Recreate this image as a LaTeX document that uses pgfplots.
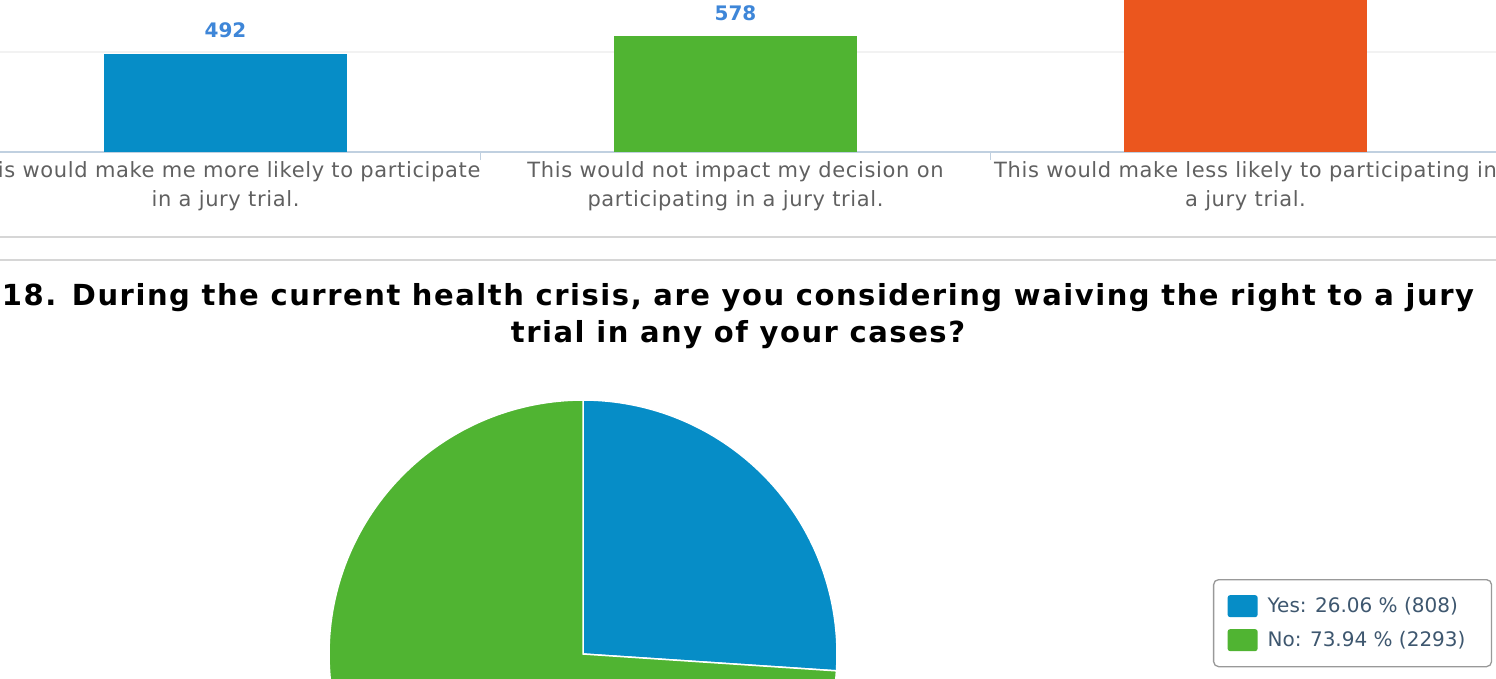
\documentclass[border=0pt]{standalone}
\usepackage{pgfplots}
\pgfplotsset{compat=1.18}
\usepackage{fontspec}
\setmainfont{DejaVu Sans}
\newfontfamily\titlefont[LetterSpace=5.3]{DejaVu Sans}
\newfontfamily\tickfont[LetterSpace=3]{DejaVu Sans}
\definecolor{cblue}{HTML}{068DC7}
\definecolor{cgreen}{HTML}{50B432}
\definecolor{corange}{HTML}{EB561E}
\definecolor{axiscol}{HTML}{C0D0E0}
\definecolor{gridcol}{HTML}{F2F2F2}
\definecolor{tickgray}{HTML}{606060}
\definecolor{labelblue}{HTML}{3E86D8}
\definecolor{sepcol}{HTML}{D6D6D6}
\definecolor{legtext}{HTML}{3E576F}
\definecolor{legborder}{HTML}{999999}
\pgfmathsetmacro{\angYes}{360*(808/(808+2293))}
\begin{document}
\begin{tikzpicture}
\path[use as bounding box] (0pt,0pt) rectangle (1496pt,-679pt);
\clip (0pt,0pt) rectangle (1496pt,-679pt);
% ---------- bar chart (top, cropped) ----------
\begin{axis}[
  at={(-29.5pt,-152pt)}, anchor=south west,
  scale only axis, width=1530pt, height=152pt,
  xmin=-0.5, xmax=2.5, ymin=0, ymax=760,
  ybar, bar width=243pt,
  /pgf/number format/assume math mode=true,
  axis x line*=bottom, axis y line*=left,
  y axis line style={draw=none},
  x axis line style={color=axiscol, line width=1.3pt, -},
  xtick={0.5,1.5}, xticklabels={},
  xtick align=outside,
  major tick length=8pt,
  xtick style={draw=axiscol, line width=1pt},
  extra x ticks={0,1,2},
  extra x tick labels={{This would make me more likely to participate\\in a jury trial.},{This would not impact my decision on\\participating in a jury trial.},{This would make less likely to participating in\\a jury trial.}},
  extra x tick style={major tick length=0pt, xtick style={draw=none}},
  x tick label style={align=center, font=\tickfont\fontsize{21}{29}\selectfont, text=tickgray, yshift=-6pt},
  ytick={500}, yticklabels={}, ytick style={draw=none},
  ymajorgrids, grid style={color=gridcol, line width=1.2pt},
  nodes near coords,
  nodes near coords style={text=labelblue, font=\bfseries\fontsize{20}{20}\selectfont, anchor=south, yshift=12pt},
]
\addplot[fill=cblue, draw=none, bar shift=0pt] coordinates {(0,492)};
\addplot[fill=cgreen, draw=none, bar shift=0pt] coordinates {(1,578)};
\addplot[fill=corange, draw=none, bar shift=0pt] coordinates {(2,2031)};
\end{axis}
% ---------- separators ----------
\draw[sepcol, line width=2pt] (0pt,-237pt) -- (1496pt,-237pt);
\draw[sepcol, line width=2pt] (0pt,-260pt) -- (1496pt,-260pt);
% ---------- title ----------
\node[font=\titlefont\bfseries\fontsize{29}{37}\selectfont, anchor=base] at (738pt,-305pt) {18. During the current health crisis, are you considering waiving the right to a jury};
\node[font=\titlefont\bfseries\fontsize{29}{37}\selectfont, anchor=base] at (738pt,-342pt) {trial in any of your cases?};
% ---------- pie ----------
\begin{axis}[
  at={(0pt,0pt)}, anchor=north west,
  scale only axis, width=1496pt, height=679pt,
  xmin=0, xmax=1496, ymin=0, ymax=679, y dir=reverse,
  hide axis,
  legend image code/.code={\path[#1, draw=none, rounded corners=2.5pt] (0pt,-11pt) rectangle (30pt,11pt);},
  legend style={at={(0.8108,0.1473)}, anchor=north west, draw=legborder, line width=1.3pt, rounded corners=5pt,
    font=\fontsize{20}{24}\selectfont, text=legtext, inner xsep=14pt, inner ysep=15.5pt, row sep=12pt,
    nodes={inner sep=0pt},
    /tikz/every odd column/.append style={column sep=10pt}},
  legend cell align=left,
]
\addplot[fill=cblue, draw=white, line width=1.5pt, domain=0:\angYes, samples=90] ({583+254*sin(x)},{654-254*cos(x)}) -- (axis cs:583,654) -- cycle;
\addlegendentry{Yes:  26.06 \% (808)\kern12pt\null}
\addplot[fill=cgreen, draw=white, line width=1.5pt, domain=\angYes:360, samples=200] ({583+254*sin(x)},{654-254*cos(x)}) -- (axis cs:583,654) -- cycle;
\addlegendentry{No:  73.94 \% (2293)\kern12pt\null}
\end{axis}
\end{tikzpicture}
\end{document}
